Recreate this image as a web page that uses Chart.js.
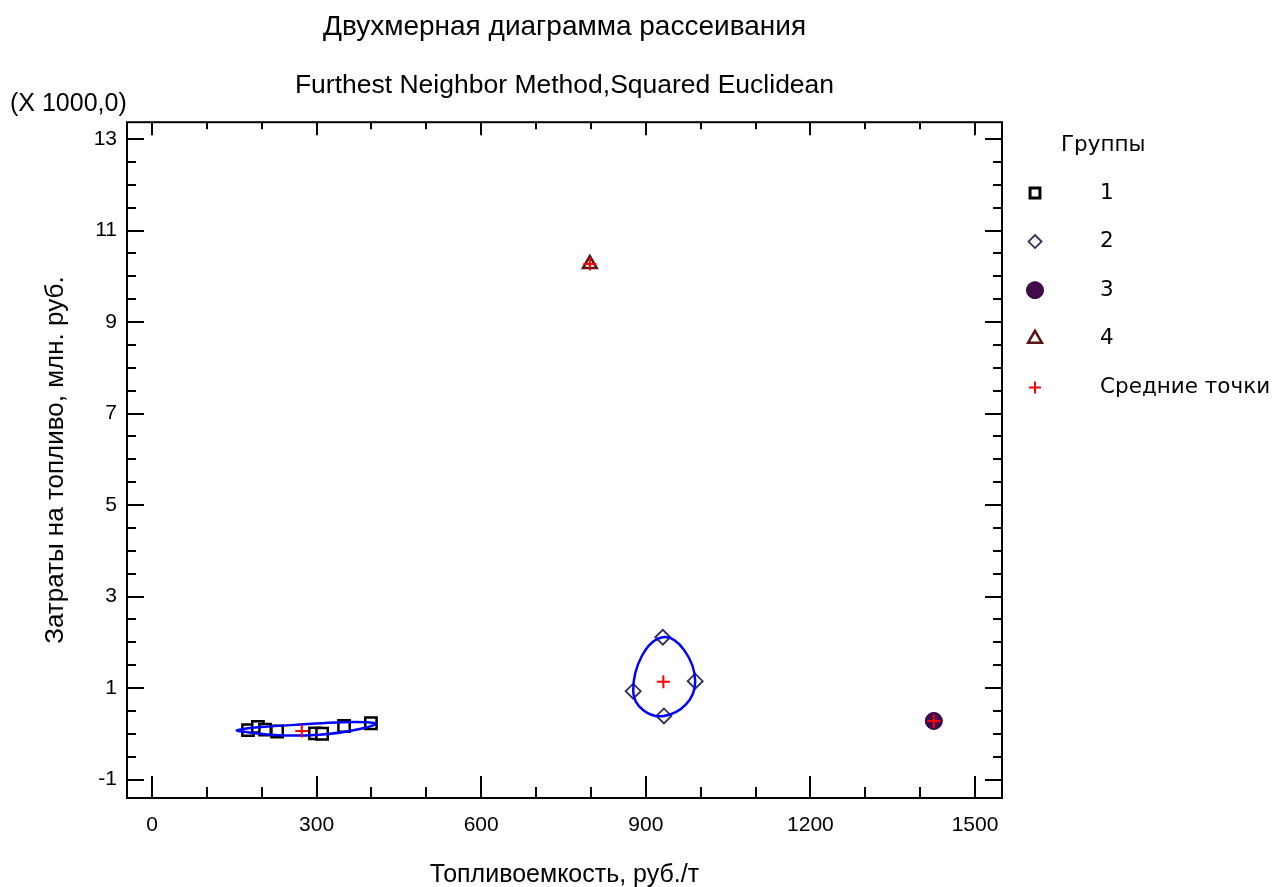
<!DOCTYPE html>
<html>
<head>
<meta charset="utf-8">
<script src="https://cdn.jsdelivr.net/npm/chart.js@4"></script>
<style>
  body { margin: 0; background: #fff; }
  #wrap { width: 1272px; height: 887px; }
</style>
</head>
<body>
<div id="wrap"><canvas id="grafico" width="1272" height="887"></canvas></div>
<script>
// данные (Y в тысячах)
const group1 = [
  {x: 175, y: 0.08}, {x: 193, y: 0.15}, {x: 206, y: 0.09}, {x: 228, y: 0.05},
  {x: 297, y: 0.01}, {x: 310, y: 0.00}, {x: 350, y: 0.17}, {x: 399, y: 0.23}
];
const group2 = [{x: 931, y: 2.11}, {x: 877, y: 0.93}, {x: 990, y: 1.15}, {x: 933, y: 0.39}];
const group3 = [{x: 1425, y: 0.28}];
const group4 = [{x: 798, y: 10.27}];
const means = [{x: 273, y: 0.06}, {x: 932, y: 1.14}, {x: 1425, y: 0.28}, {x: 798, y: 10.27}];

// контуры групп (замкнутые)
const hull1 = [{x: 157, y: 0.06}, {x: 200, y: 0.15}, {x: 405, y: 0.235}, {x: 305, y: -0.02}];
const hull2 = [{x: 877, y: 0.93}, {x: 931, y: 2.11}, {x: 990, y: 1.15}, {x: 933, y: 0.39}];

const xTicks = [0, 300, 600, 900, 1200, 1500];
const yTicks = [-1, 1, 3, 5, 7, 9, 11, 13];
const groupLabels = ['1', '2', '3', '4', 'Средние точки'];

// замыкаем контур: крайние сегменты будут невидимы
function loop(pts) {
  return [pts[pts.length - 1], ...pts, pts[0], pts[1]];
}

function hullDataset(pts) {
  const n = pts.length + 3;
  return {
    type: 'line',
    data: loop(pts),
    borderColor: '#0000ff',
    borderWidth: 2.5,
    pointRadius: 0,
    tension: 0.5,
    fill: false,
    order: 1,
    segment: {
      borderColor: c => (c.p0DataIndex === 0 || c.p1DataIndex === n - 1) ? 'rgba(0,0,0,0)' : undefined
    }
  };
}

const legendStyles = [
  {pointStyle: 'rect', radius: 7, stroke: '#000000', fill: '#ffffff', width: 3},
  {pointStyle: 'rectRot', radius: 6.5, stroke: '#2e2e5c', fill: '#ffffff', width: 1.8},
  {pointStyle: 'circle', radius: 8.5, stroke: '#2c0533', fill: '#420a4a', width: 1},
  {pointStyle: 'triangle', radius: 8, stroke: '#5a1414', fill: '#ffffff', width: 2.5},
  {pointStyle: 'cross', radius: 6, stroke: '#ff0000', fill: '#ff0000', width: 2}
];

const frame = {
  id: 'frame',
  beforeDatasetsDraw(chart) {
    const {ctx, chartArea: a, scales: {x, y}} = chart;
    ctx.save();
    ctx.strokeStyle = '#000';
    ctx.lineWidth = 2;
    ctx.strokeRect(a.left, a.top, a.right - a.left, a.bottom - a.top);
    ctx.beginPath();
    for (let v = 0; v <= 1500; v += 100) {
      const px = Math.round(x.getPixelForValue(v));
      const major = xTicks.includes(v);
      ctx.moveTo(px, a.bottom); ctx.lineTo(px, a.bottom - (major ? 22 : 11));
      ctx.moveTo(px, a.top); ctx.lineTo(px, a.top + (major ? 13 : 7));
    }
    for (let v = -1; v <= 13; v += 0.5) {
      const py = Math.round(y.getPixelForValue(v));
      const major = yTicks.includes(v);
      ctx.moveTo(a.left, py); ctx.lineTo(a.left + (major ? 17 : 9), py);
      ctx.moveTo(a.right, py); ctx.lineTo(a.right - (major ? 17 : 9), py);
    }
    ctx.stroke();
    ctx.restore();
  },
  afterDraw(chart) {
    const ctx = chart.ctx;
    ctx.save();
    ctx.fillStyle = '#000';
    ctx.textBaseline = 'middle';
    ctx.textAlign = 'left';
    ctx.font = '25px "Liberation Sans", Arial, sans-serif';
    ctx.fillText('(X 1000,0)', 10, 104);

    // легенда
    ctx.font = '21.5px "DejaVu Sans", sans-serif';
    ctx.fillText('Группы', 1061, 145);
    groupLabels.forEach((lab, i) => {
      const st = legendStyles[i];
      const cy = 193 + i * 48.6;
      ctx.fillStyle = st.fill;
      ctx.strokeStyle = st.stroke;
      ctx.lineWidth = st.width;
      Chart.helpers.drawPoint(ctx, {pointStyle: st.pointStyle, radius: st.radius, borderWidth: st.width, rotation: 0}, 1035, cy);
      ctx.fillStyle = '#000';
      ctx.fillText(lab, 1100, cy);
    });
    ctx.restore();
  }
};

Chart.defaults.font.family = '"Liberation Sans", Arial, sans-serif';
Chart.defaults.color = '#000';

const ctx = document.getElementById('grafico').getContext('2d');
new Chart(ctx, {
  type: 'scatter',
  data: {
    datasets: [
      {label: 'Средние точки', data: means, pointStyle: 'cross', pointRadius: 6.5, borderColor: '#ff0000', borderWidth: 2, order: 0},
      hullDataset(hull1),
      hullDataset(hull2),
      {label: '1', data: group1, pointStyle: 'rect', pointRadius: 8, borderColor: '#000000', backgroundColor: '#ffffff', borderWidth: 2.5, order: 2},
      {label: '2', data: group2, pointStyle: 'rectRot', pointRadius: 7.5, borderColor: '#2e2e5c', backgroundColor: '#ffffff', borderWidth: 1.8, order: 2},
      {label: '3', data: group3, pointStyle: 'circle', pointRadius: 8.5, borderColor: '#2c0533', backgroundColor: '#420a4a', borderWidth: 1, order: 2},
      {label: '4', data: group4, pointStyle: 'triangle', pointRadius: 8, borderColor: '#5a1414', backgroundColor: '#ffffff', borderWidth: 2.5, order: 2}
    ]
  },
  options: {
    responsive: false,
    animation: false,
    events: [],
    layout: { padding: { left: 0, right: 270, top: 0, bottom: 0 } },
    scales: {
      x: {
        type: 'linear',
        min: -45.6,
        max: 1549.2,
        afterBuildTicks: s => { s.ticks = xTicks.map(v => ({value: v})); },
        afterFit: s => { s.height = 89; },
        grid: { display: false, drawTicks: false },
        border: { display: false },
        ticks: { font: { size: 21 }, padding: 15, callback: v => String(v) },
        title: { display: true, text: 'Топливоемкость, руб./т', font: { size: 25 }, padding: { top: 0, bottom: -3 } }
      },
      y: {
        type: 'linear',
        min: -1.404,
        max: 13.37,
        afterBuildTicks: s => { s.ticks = yTicks.map(v => ({value: v})); },
        afterFit: s => { s.width = 127; },
        grid: { display: false, drawTicks: false },
        border: { display: false },
        ticks: { font: { size: 21 }, padding: 10, callback: v => String(v) },
        title: { display: true, text: 'Затраты на топливо, млн. руб.', font: { size: 26 }, padding: { top: 40, bottom: 0 } }
      }
    },
    plugins: {
      legend: { display: false },
      tooltip: { enabled: false },
      title: {
        display: true, fullSize: false,
        text: 'Двухмерная диаграмма рассеивания',
        font: { size: 28, weight: 'normal' },
        padding: { top: 10.2, bottom: 26.4 }
      },
      subtitle: {
        display: true, fullSize: false,
        text: 'Furthest Neighbor Method,Squared Euclidean',
        font: { size: 26.5, weight: 'normal' },
        padding: { top: 0, bottom: 20.2 }
      }
    }
  },
  plugins: [frame]
});
</script>
</body>
</html>
